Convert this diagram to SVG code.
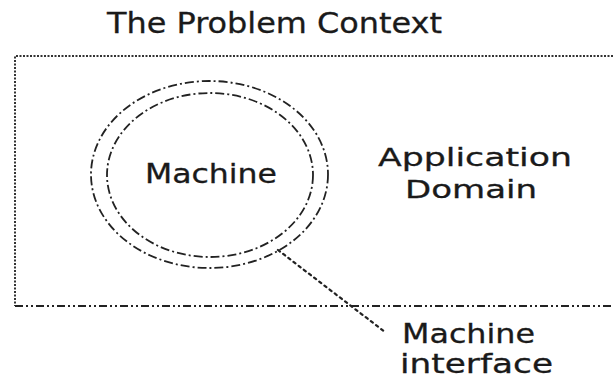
<svg xmlns="http://www.w3.org/2000/svg" width="613" height="381" viewBox="0 0 613 381">
  <style>
    .lbl { font-family: "DejaVu Sans", "Verdana", sans-serif; fill: #1a1a1a; stroke: #1a1a1a; stroke-width: 0.3; }
    .frame-dot { fill: none; stroke: #333; stroke-width: 2; stroke-dasharray: 2 1.5; }
    .frame-dashdot { fill: none; stroke: #222; stroke-width: 2; stroke-dasharray: 8 3 2 3 2 3; }
    .ring { fill: none; stroke: #222; stroke-width: 1.8; stroke-dasharray: 9 3 2 3; }
    .leader { fill: none; stroke: #222; stroke-width: 2.2; stroke-dasharray: 2.5 4; stroke-linecap: round; }
  </style>
  <rect width="613" height="381" fill="#fff"/>

  <!-- title -->
  <g id="title">
    <text class="lbl" x="107" y="33" font-size="28" textLength="335" lengthAdjust="spacingAndGlyphs">The Problem Context</text>
  </g>

  <!-- application domain: open-ended frame running off the right edge -->
  <g id="domain">
    <path class="frame-dot" d="M613,56 H15 V306"/>
    <path class="frame-dashdot" d="M15,306 H613"/>
    <text class="lbl" x="378" y="166" font-size="25" textLength="194" lengthAdjust="spacingAndGlyphs">Application</text>
    <text class="lbl" x="405" y="198" font-size="24" textLength="132" lengthAdjust="spacingAndGlyphs">Domain</text>
  </g>

  <!-- machine with its interface ring -->
  <g id="machine">
    <ellipse class="ring" cx="209.5" cy="174.5" rx="118.5" ry="93.5"/>
    <ellipse class="ring" cx="210" cy="175" rx="103" ry="82"/>
    <text class="lbl" x="145" y="183" font-size="26" textLength="132" lengthAdjust="spacingAndGlyphs">Machine</text>
  </g>

  <!-- connectors -->
  <g id="connectors">
    <path class="leader" d="M278,250 L385,332"/>
  </g>

  <g id="interface-label">
    <text class="lbl" x="402" y="343" font-size="27" textLength="133" lengthAdjust="spacingAndGlyphs">Machine</text>
    <text class="lbl" x="400" y="373" font-size="26" textLength="153" lengthAdjust="spacingAndGlyphs">interface</text>
  </g>
</svg>
